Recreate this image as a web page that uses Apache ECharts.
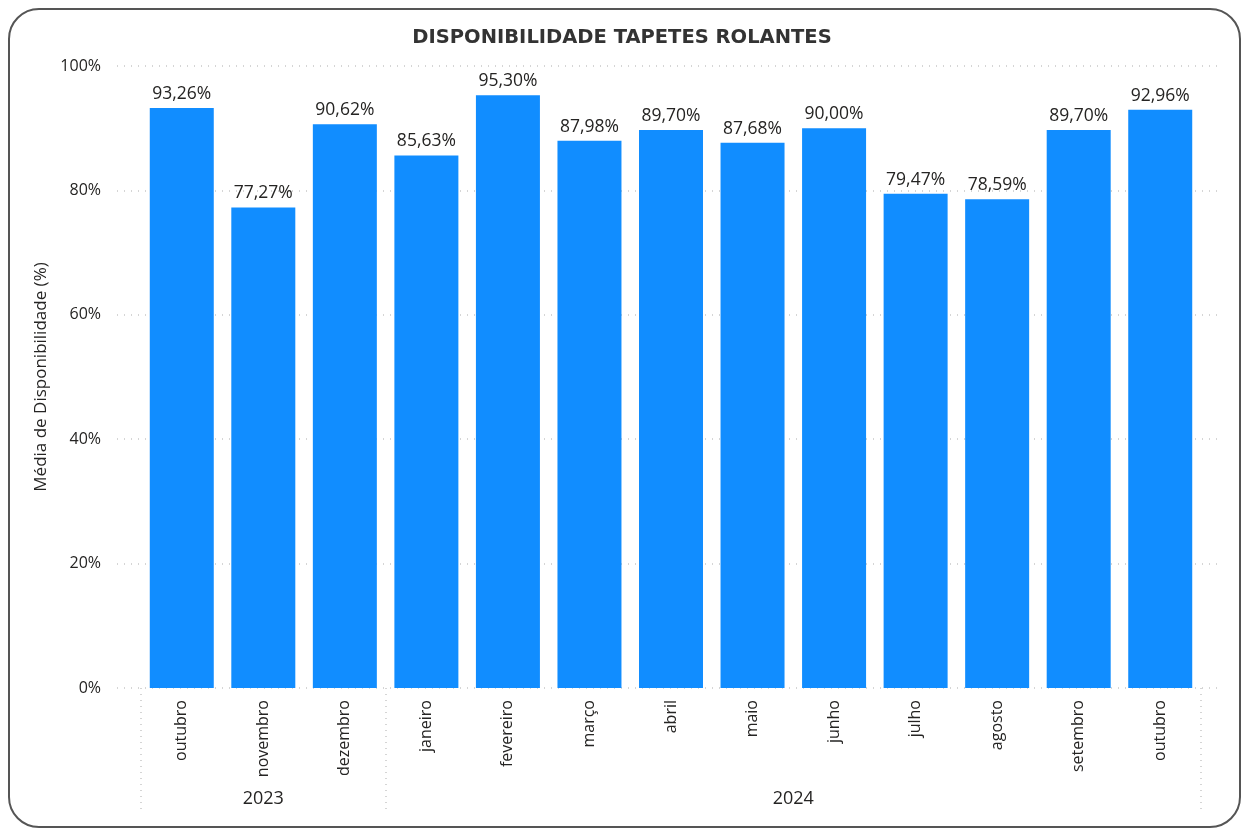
<!DOCTYPE html>
<html>
<head>
<meta charset="utf-8">
<script src="https://cdn.jsdelivr.net/npm/echarts@6/dist/echarts.min.js"></script>
<style>
  html, body { margin: 0; padding: 0; background: #fff; }
  #chart { width: 1244px; height: 830px; }
</style>
</head>
<body>
<div id="chart"></div>
<script>
// dados
var months = ['outubro', 'novembro', 'dezembro', 'janeiro', 'fevereiro', 'março', 'abril',
  'maio', 'junho', 'julho', 'agosto', 'setembro', 'outubro'];
var availability = [93.26, 77.27, 90.62, 85.63, 95.30, 87.98, 89.70, 87.68, 90.00, 79.47, 78.59, 89.70, 92.96];
var years = ['2023', '2024'];
var monthsPerYear = [3, 10];
var yTicks = [0, 20, 40, 60, 80, 100];

var textColor = '#252423';
var font = '"Open Sans", "Noto Sans", sans-serif';

// limites e centros dos anos no eixo
var yearBounds = [0];
var yearCenters = [];
monthsPerYear.forEach(function (n, i) {
  yearCenters.push(yearBounds[i] + n / 2);
  yearBounds.push(yearBounds[i] + n);
});

function fmtPct(v) {
  return v.toFixed(2).replace('.', ',') + '%';
}

var chart = echarts.init(document.getElementById('chart'));
chart.setOption({
  backgroundColor: '#fff',
  animation: false,
  title: {
    text: 'DISPONIBILIDADE TAPETES ROLANTES',
    left: 'center',
    top: 23,
    textStyle: { fontFamily: '"DejaVu Sans", sans-serif', fontSize: 19.5, fontWeight: 'bold', color: '#333' }
  },
  graphic: [{
    type: 'rect',
    shape: { x: 9, y: 9, width: 1231, height: 818, r: 30 },
    style: { fill: 'none', stroke: '#555', lineWidth: 2 },
    silent: true
  }],
  grid: [
    { left: 141, right: 43, top: 66, bottom: 142 },
    { left: 117, right: 22, top: 66, bottom: 142 }
  ],
  xAxis: [{
    type: 'category',
    gridIndex: 0,
    data: months,
    axisLine: { show: false },
    axisTick: { show: false },
    axisLabel: {
      rotate: 90, margin: 12, interval: 0,
      fontFamily: font, fontSize: 16, color: textColor
    }
  }, {
    type: 'value',
    gridIndex: 0,
    position: 'bottom',
    min: 0,
    max: months.length,
    axisLine: { show: false },
    splitLine: { show: false },
    axisTick: {
      show: true, customValues: yearBounds, length: 125,
      lineStyle: { color: '#c8c8c8', type: [1, 5], width: 1.5 }
    },
    axisLabel: {
      customValues: yearCenters, margin: 102,
      fontFamily: font, fontSize: 18, color: textColor,
      formatter: function (v) {
        var i = yearCenters.indexOf(v);
        return i >= 0 ? years[i] : '';
      }
    }
  }, {
    type: 'category', gridIndex: 1, data: months, show: false
  }],
  yAxis: [{
    type: 'value', gridIndex: 0, min: 0, max: 100, show: false
  }, {
    type: 'value',
    gridIndex: 1,
    min: 0, max: 100, interval: 20,
    name: 'Média de Disponibilidade (%)',
    nameLocation: 'middle',
    nameGap: 64,
    nameTextStyle: { fontFamily: font, fontSize: 17, color: textColor },
    axisLine: { show: false },
    axisTick: { show: false },
    axisLabel: {
      margin: 16, fontFamily: font, fontSize: 16, color: textColor,
      formatter: function (v) { return yTicks.indexOf(v) >= 0 ? v + '%' : ''; }
    },
    splitLine: { lineStyle: { color: '#c8c8c8', type: [1, 6], width: 1.5 } }
  }],
  series: [{
    type: 'bar',
    xAxisIndex: 0,
    yAxisIndex: 0,
    data: availability,
    barWidth: 64,
    itemStyle: { color: '#118DFF' },
    label: {
      show: true, position: 'top', distance: 5,
      fontFamily: font, fontSize: 17.5, color: textColor,
      formatter: function (p) { return fmtPct(p.value); }
    }
  }]
});
</script>
</body>
</html>
